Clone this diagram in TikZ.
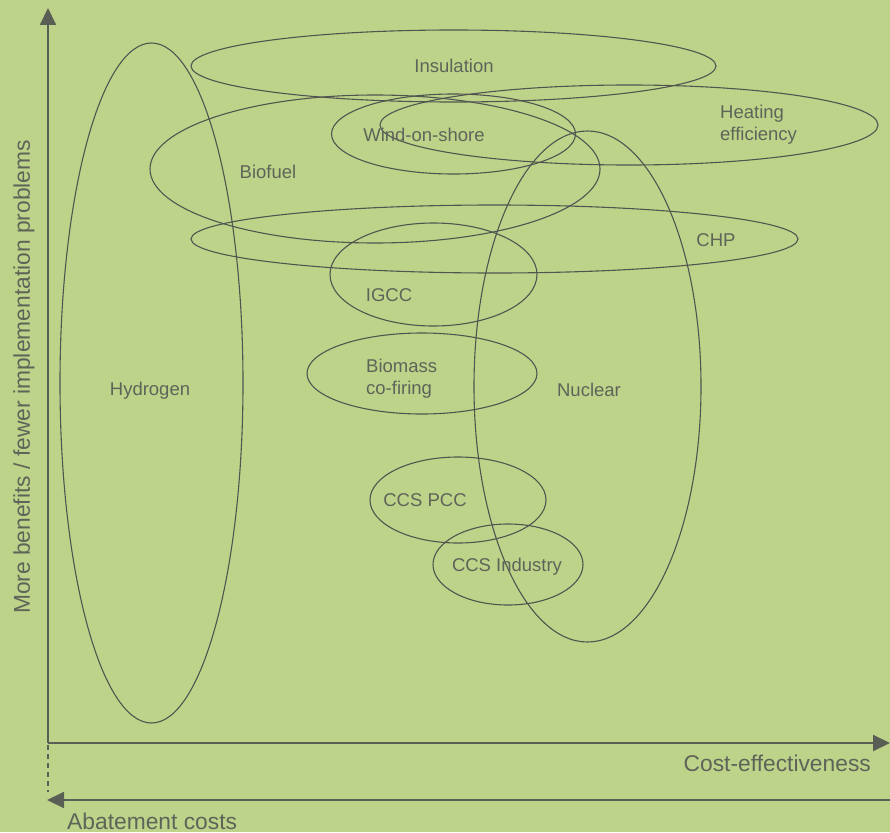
\documentclass[tikz,border=0pt]{standalone}
\usepackage{fontspec}
\setmainfont{Liberation Sans}
\usetikzlibrary{shapes.geometric,arrows.meta}
\definecolor{bg}{HTML}{BED38A}
\definecolor{axisc}{HTML}{5A5F55}
\definecolor{linec}{HTML}{50554F}
\definecolor{txtc}{HTML}{5F6459}
\begin{document}
\begin{tikzpicture}[x=1pt,y=-1pt,
  oval/.style={ellipse,draw=linec,line width=1.1pt,inner sep=0pt},
  lbl/.style={text=txtc,font=\fontsize{18.5}{22}\selectfont,inner sep=0pt},
  axlbl/.style={text=txtc,font=\fontsize{22.8}{26}\selectfont,inner sep=0pt},
  axis/.style={draw=axisc,line width=2pt},
  tip/.style={-{Triangle[length=17pt,width=16pt]}}]
\fill[bg] (0,0) rectangle (890,832);
\useasboundingbox (0,0) rectangle (890,832);
% ellipses
\node[oval,minimum width=183,minimum height=680] (hyd) at (151.5,383) {};
\node[oval,minimum width=525,minimum height=72] (ins) at (453.5,66) {};
\node[oval,minimum width=498,minimum height=80] (heat) at (629,125) {};
\node[oval,minimum width=244,minimum height=80] (wind) at (453.5,134) {};
\node[oval,minimum width=450,minimum height=148] (bio) at (375,169) {};
\node[oval,minimum width=607,minimum height=68] (chp) at (494.5,239) {};
\node[oval,minimum width=207,minimum height=103] (igcc) at (433.5,274.5) {};
\node[oval,minimum width=230,minimum height=81] (biom) at (422,373.5) {};
\node[oval,minimum width=227,minimum height=511] (nuc) at (587.5,386.5) {};
\node[oval,minimum width=176,minimum height=86] (pcc) at (458,500) {};
\node[oval,minimum width=150,minimum height=81] (ind) at (508,564.5) {};
% labels
\node[lbl] (tins) at (454,65.5) {Insulation};
\node[lbl,anchor=west,align=left] (theat) at (720,125) {Heating\\efficiency};
\node[lbl] (twind) at (424,134.5) {Wind-on-shore};
\node[lbl] (tbio) at (268,172) {Biofuel};
\node[lbl] (tchp) at (716,240) {CHP};
\node[lbl] (tigcc) at (389,295.5) {IGCC};
\node[lbl,anchor=west,align=left] (tbiom) at (366,379) {Biomass\\co-firing};
\node[lbl] (thyd) at (150,391) {Hydrogen};
\node[lbl] (tnuc) at (589,390) {Nuclear};
\node[lbl] (tpcc) at (425,500) {CCS PCC};
\node[lbl] (tind) at (507,566.5) {CCS Industry};
% axes
\coordinate (o) at (48,743);
\coordinate (ytop) at (48,8);
\coordinate (xend) at (890,743);
\coordinate (dtop) at (48,745);
\coordinate (dbot) at (48,792);
\coordinate (ar) at (890,800);
\coordinate (al) at (47,800);
\draw[axis,tip] (o) -- (ytop);
\draw[axis,tip] (o) -- (xend);
\draw[axis,dash pattern=on 5pt off 4pt] (dtop) -- (dbot);
\draw[axis,tip] (ar) -- (al);
\node[axlbl,rotate=90] (ylab) at (24,377) {More benefits / fewer implementation problems};
\node[axlbl,anchor=east] (xlab) at (871,763.5) {Cost-effectiveness};
\node[axlbl,anchor=west] (alab) at (67,821.5) {Abatement costs};
\end{tikzpicture}
\end{document}
